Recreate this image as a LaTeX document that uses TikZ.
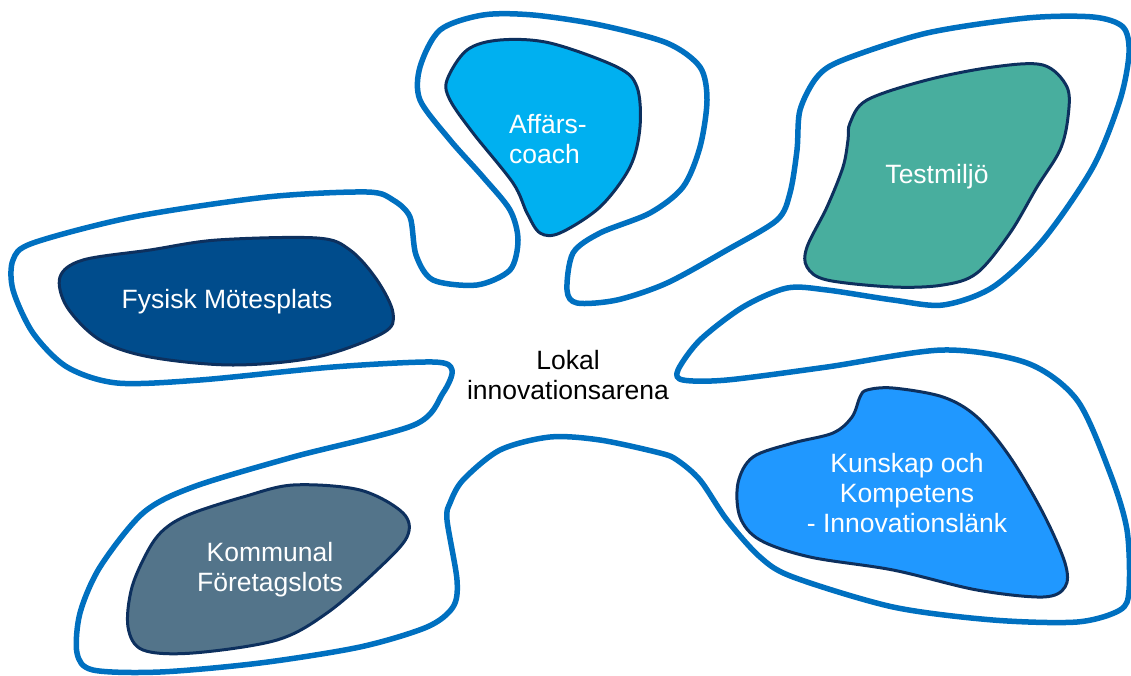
\documentclass[tikz,border=0pt]{standalone}
\usepackage{fontspec}
\setmainfont{Liberation Sans}
\definecolor{outl}{RGB}{0,112,192}
\definecolor{bord}{RGB}{13,48,94}
\definecolor{cfys}{RGB}{0,76,140}
\definecolor{caff}{RGB}{0,176,240}
\definecolor{ctest}{RGB}{72,174,158}
\definecolor{ckun}{RGB}{32,152,255}
\definecolor{ckom}{RGB}{83,116,138}
\tikzset{
  arena/.style={draw=outl, line width=5.5pt, line join=round},
  blob/.style={draw=bord, line width=3pt, line join=round},
  lbl/.style={text=white, align=center, font=\fontsize{26.5}{30}\selectfont, inner sep=0pt},
  ctr/.style={text=black, align=center, font=\fontsize{26.5}{30}\selectfont, inner sep=0pt}
}
\begin{document}
\begin{tikzpicture}[x=1pt,y=-1pt]
\useasboundingbox (0,0) rectangle (1131,675);
% big arena outline
\draw[arena] plot[smooth cycle, tension=0.5] coordinates {
(13,260) (33,243) (133,217) (267,197) (367,192) (393,200) (410,217) (416,255) (433,280) (477,285)
(510,270) (518,240) (510,210) (483,177) (450,140) (420,100) (420,67) (440,30) (483,15) (533,15)
(600,25) (667,43) (700,67) (707,100) (700,147) (683,187) (650,213) (600,233) (573,253) (567,290)
(577,303) (617,300) (667,283) (727,250) (777,220) (790,193) (797,150) (800,110) (817,77) (843,60)
(927,33) (1027,18) (1093,17) (1123,27) (1129,53) (1120,100) (1093,167) (1043,240) (993,287) (943,305)
(893,300) (827,290) (787,288) (743,307) (700,340) (678,370) (683,380) (727,380) (827,367) (943,350)
(1027,363) (1077,400) (1110,473) (1127,530) (1129,590) (1120,610) (1077,622) (993,620) (893,607) (793,577)
(760,557) (727,520) (700,480) (677,460) (660,453) (600,440) (550,437) (500,450) (463,480) (450,503)
(447,520) (457,580) (453,607) (427,627) (360,647) (260,663) (160,672) (93,670) (77,653) (80,613)
(100,567) (143,513) (193,487) (293,457) (414,425) (443,393) (452,370) (433,362) (333,367) (200,380)
(117,383) (67,367) (33,333) (13,290)};
% Fysisk
\draw[blob, fill=cfys] plot[smooth cycle, tension=0.55] coordinates {
(60,277) (83,260) (150,250) (217,240) (317,238) (350,250) (377,280) (393,313) (383,333) (317,357)
(233,365) (150,357) (100,340) (67,307)};
% Affars
\draw[blob, fill=caff] plot[smooth cycle, tension=0.55] coordinates {
(447,80) (467,50) (500,40) (550,43) (617,67) (637,87) (640,127) (630,167) (600,207) (560,233)
(540,233) (527,213) (513,183) (473,133) (450,100)};
% Testmiljo
\draw[blob, fill=ctest] plot[smooth cycle, tension=0.55] coordinates {
(850,123) (867,100) (927,80) (993,67) (1043,65) (1067,87) (1068,117) (1060,150) (1037,187) (1010,233)
(977,273) (943,285) (893,287) (827,280) (807,267) (807,247) (827,207) (843,167) (848,140)};
% Kunskap
\draw[blob, fill=ckun] plot[smooth cycle, tension=0.55] coordinates {
(867,390) (893,388) (943,397) (977,417) (1010,457) (1043,513) (1065,563) (1065,587) (1043,597) (977,590)
(893,570) (810,557) (760,540) (740,517) (738,483) (753,457) (793,443) (833,433) (852,417) (860,397)};
% Kommunal
\draw[blob, fill=ckom] plot[smooth cycle, tension=0.55] coordinates {
(167,527) (193,513) (243,497) (293,485) (360,490) (403,513) (407,537) (377,570) (327,613) (277,640)
(193,653) (143,650) (128,627) (132,587) (150,547)};
% labels
\node[lbl] (fys) at (227,302) {Fysisk Mötesplats};
\node[lbl, align=left] (aff) at (548,139) {Affärs-\\coach};
\node[lbl] (test) at (937,177) {Testmiljö};
\node[lbl] (kun) at (907,493) {Kunskap och\\Kompetens\\- Innovationslänk};
\node[lbl] (kom) at (270,570) {Kommunal\\Företagslots};
\node[ctr] (arena) at (568,375) {Lokal\\innovationsarena};
\end{tikzpicture}
\end{document}
